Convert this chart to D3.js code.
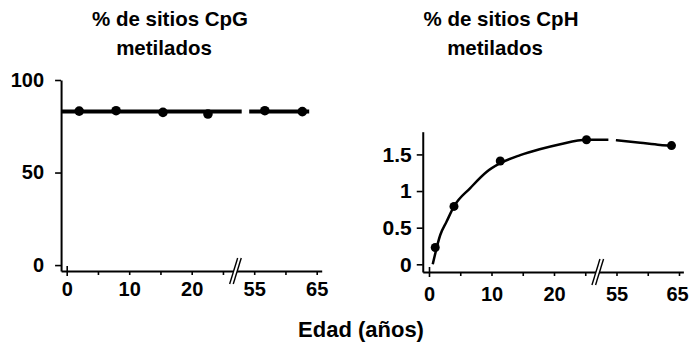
<!DOCTYPE html>
<html>
<head>
<meta charset="utf-8">
<script src="https://cdn.jsdelivr.net/npm/d3@7"></script>
<style>
  body { margin: 0; background: #fff; }
  svg text { font-family: "Liberation Sans", Arial, Helvetica, sans-serif; font-weight: bold; fill: #000; }
</style>
</head>
<body>
<div id="chart"></div>
<script>
// ages are plotted on a broken axis: 0..27 then 52..66
const cpgAges = [2, 7.9, 15.4, 22.6, 56.7, 62.7];
const cpgValues = [83.2, 83.4, 82.5, 81.6, 83.4, 82.9];
const cpgFitLevel = 83;
const cpgFitSegments = [[-0.9, 53.0], [54.2, 63.8]];

const cphAges = [1, 4, 11.4, 25.2, 63.8];
const cphValues = [0.23, 0.79, 1.41, 1.70, 1.62];
const cphCurveAgesA = [0.6, 1.8, 2.8, 4, 6.6, 9.2, 11.4, 14.6, 17.7, 21, 25.2, 53.7];
const cphCurveValuesA = [0, 0.40, 0.58, 0.79, 1.04, 1.26, 1.38, 1.49, 1.57, 1.64, 1.70, 1.70];
const cphCurveAgesB = [54.9, 58.8, 62, 63.8];
const cphCurveValuesB = [1.695, 1.66, 1.63, 1.62];

const xTicks = [0, 5, 10, 15, 20, 25, 55, 60, 65];
const xTickLabels = { 0: '0', 10: '10', 20: '20', 55: '55', 65: '65' };
const cpgYTicks = [0, 50, 100];
const cphYTicks = [0, 0.5, 1, 1.5];
const cphYTickLabels = ['0', '0.5', '1', '1.5'];

const titles = [['% de sitios CpG', 'metilados'], ['% de sitios CpH', 'metilados']];
const xTitle = 'Edad (años)';

const W = 689, H = 345;
const svg = d3.select('#chart').append('svg').attr('width', W).attr('height', H);

const k = 6.25;          // px per year
const breakLo = 27, breakHi = 52;

function makeX(x0, d0, dEnd) {
  const xb = x0 + breakLo * k;
  return d3.scaleLinear()
    .domain([d0, breakLo, breakHi, dEnd])
    .range([x0 + d0 * k, xb, xb, xb + (dEnd - breakHi) * k]);
}

function drawBreak(g, bx, by) {
  const dx = 4, dy = 13, gap = 1.8;
  g.append('path')
    .attr('d', `M${bx - dx - gap},${by + dy}L${bx + dx - gap},${by - dy}L${bx + dx + gap},${by - dy}L${bx - dx + gap},${by + dy}Z`)
    .attr('fill', '#fff');
  [-gap, gap].forEach(o => {
    g.append('line')
      .attr('x1', bx - dx + o).attr('y1', by + dy)
      .attr('x2', bx + dx + o).attr('y2', by - dy)
      .attr('stroke', '#000').attr('stroke-width', 1.4);
  });
}

function panel(cfg) {
  const g = svg.append('g');
  const x = cfg.x, y = cfg.y;
  const axisY = y.range()[0];
  const axisX = x.range()[0];

  const xa = g.append('g').attr('transform', `translate(0,${axisY})`)
    .call(d3.axisBottom(x).tickValues(xTicks).tickSize(4).tickSizeOuter(0)
      .tickPadding(cfg.xPad).tickFormat(d => xTickLabels[d] || ''));
  xa.select('.domain').attr('stroke-width', 2);
  xa.selectAll('.tick line').attr('stroke-width', 1.6);
  xa.selectAll('.tick').filter(d => d === 0).select('line').attr('y1', -5).attr('y2', 5);
  xa.selectAll('text').style('font-size', '20px');
  // last label sits right at the page edge
  xa.selectAll('.tick').filter(d => d === 65).select('text').attr('dx', cfg.lastDx);

  const ya = g.append('g').attr('transform', `translate(${axisX},0)`)
    .call(d3.axisLeft(y).tickValues(cfg.yTicks).tickSize(6).tickSizeOuter(0)
      .tickPadding(cfg.yPad).tickFormat((d, i) => cfg.yLabels[i]));
  ya.select('.domain').attr('stroke-width', 2);
  ya.selectAll('.tick line').attr('stroke-width', 1.6);
  ya.selectAll('text').style('font-size', cfg.ySize);

  drawBreak(g, x(breakLo), axisY);

  const t = g.append('text').attr('text-anchor', 'middle').style('font-size', '20.5px');
  t.append('tspan').attr('x', cfg.titleX[0]).attr('y', 26).text(cfg.title[0]);
  t.append('tspan').attr('x', cfg.titleX[1]).attr('y', 55).text(cfg.title[1]);
  return g;
}

// left panel: CpG
const xL = makeX(66.7, -0.9, 65.8);
const yL = d3.scaleLinear().domain([-3.2, 100]).range([271, 80]);
const gL = panel({ x: xL, y: yL, yTicks: cpgYTicks, yLabels: cpgYTicks.map(String), xPad: 7, yPad: 11,
  ySize: '20px', lastDx: 0, title: titles[0], titleX: [170, 164] });

gL.selectAll('line.fit').data(cpgFitSegments).enter().append('line')
  .attr('class', 'fit')
  .attr('x1', d => xL(d[0])).attr('x2', d => xL(d[1]))
  .attr('y1', yL(cpgFitLevel)).attr('y2', yL(cpgFitLevel))
  .attr('stroke', '#000').attr('stroke-width', 4);
gL.selectAll('circle').data(cpgAges).enter().append('circle')
  .attr('cx', d => xL(d)).attr('cy', (d, i) => yL(cpgValues[i])).attr('r', 4.8).attr('fill', '#000');

// right panel: CpH
const xR = makeX(429, -1.0, 65.7);
const yR = d3.scaleLinear().domain([-0.105, 1.81]).range([272, 131.7]);
const gR = panel({ x: xR, y: yR, yTicks: cphYTicks, yLabels: cphYTickLabels, xPad: 11, yPad: 5,
  ySize: '21px', lastDx: -2, title: titles[1], titleX: [501, 495] });

const line = d3.line().x(d => xR(d[0])).y(d => yR(d[1])).curve(d3.curveMonotoneX);
[[cphCurveAgesA, cphCurveValuesA], [cphCurveAgesB, cphCurveValuesB]].forEach(([a, v]) => {
  gR.append('path').datum(a.map((d, i) => [d, v[i]]))
    .attr('d', line).attr('fill', 'none').attr('stroke', '#000').attr('stroke-width', 2.5);
});
gR.selectAll('circle').data(cphAges).enter().append('circle')
  .attr('cx', d => xR(d)).attr('cy', (d, i) => yR(cphValues[i])).attr('r', 4.5).attr('fill', '#000');

svg.append('text').attr('x', 361).attr('y', 337).attr('text-anchor', 'middle')
  .style('font-size', '22px').text(xTitle);
</script>
</body>
</html>
